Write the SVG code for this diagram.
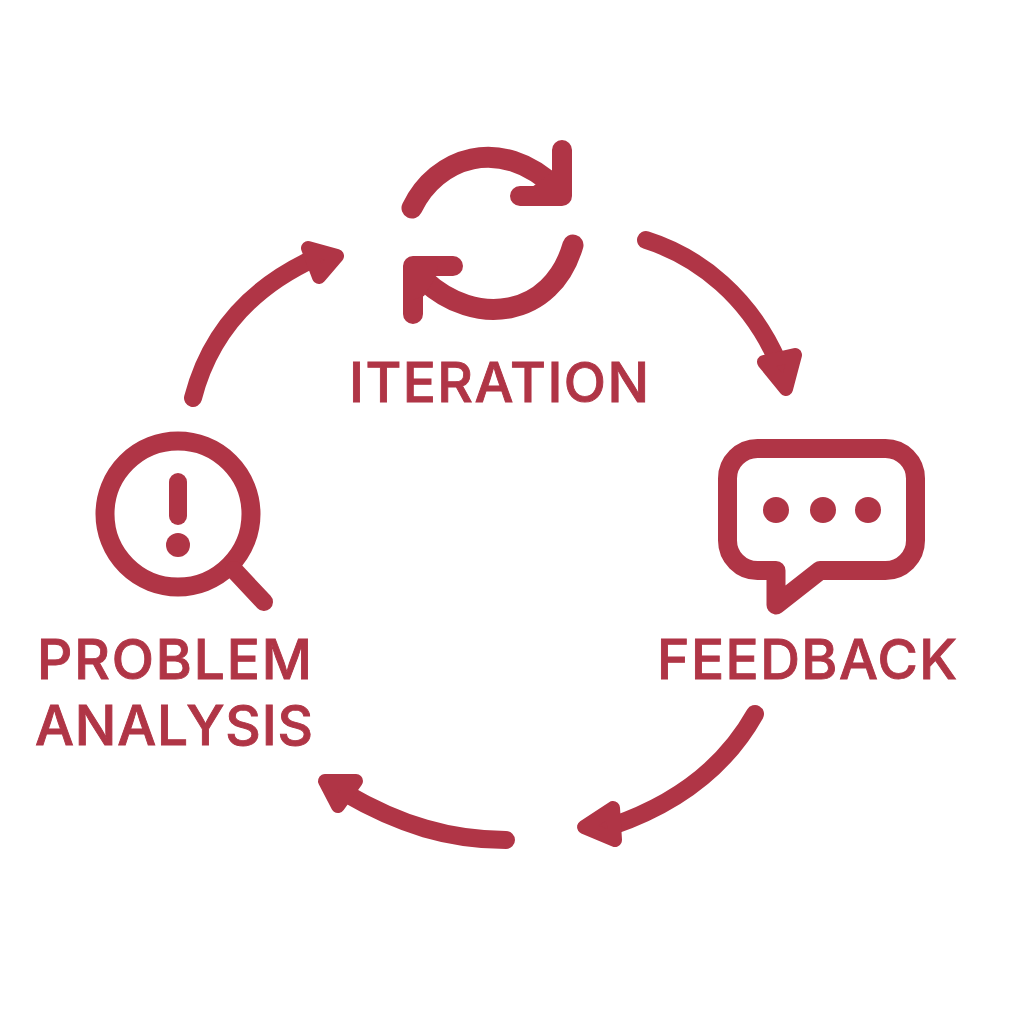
<svg xmlns="http://www.w3.org/2000/svg" width="1024" height="1024" viewBox="0 0 1024 1024">
<style>
.s{fill:none;stroke:#b03546;stroke-linecap:round;stroke-linejoin:round}
.f{fill:#b03546}
.c{stroke-width:18}
.i{stroke-width:21}
.h{fill:#b03546;stroke:#b03546;stroke-width:14;stroke-linejoin:round}
text{font-family:Inter,"Liberation Sans",sans-serif;font-weight:500;fill:#b03546;stroke:#b03546;stroke-width:0.9px;font-size:55px}
</style>
<rect width="1024" height="1024" fill="#fff"/>
<g id="connectors">
<path class="s c" d="M646 240C700 257 750 298 778 362"/>
<path class="h" d="M764 362L795 355L786 389Z"/>
<path class="s c" d="M755 714C728 762 682 802 612 826"/>
<path class="h" d="M613 808L584 827L615 840Z"/>
<path class="s c" d="M506 840C450 840 400 825 345 793"/>
<path class="h" d="M325 781L356 781L338 806Z"/>
<path class="s c" d="M193 398C208 340 245 290 315 258"/>
<path class="h" d="M308 248L337 256L319 277Z"/>
</g>
<g id="iteration">
<path class="s i" d="M412 208C436 158 500 134 556 188"/>
<path class="s" stroke-width="20" d="M562 150V196H520"/>
<path class="f" d="M532 187L553 172L562 160V196H540Z"/>
<path class="s i" d="M573 245C552 318 475 328 424 280"/>
<path class="s" stroke-width="20" d="M413 314V266H453"/>
<path class="f" d="M413 266H438L434 280L424 296L413 300Z"/>
<text x="349" y="402" textLength="300">ITERATION</text>
</g>
<g id="feedback">
<path class="s" stroke-width="19" d="M757.500 448.500H885.500A30 30 0 0 1 915.500 478.500V540.500A30 30 0 0 1 885.500 570.500H820L776 605V570.500H757.500A30 30 0 0 1 727.500 540.500V478.500A30 30 0 0 1 757.500 448.500Z"/>
<circle class="f" cx="776" cy="510" r="13"/><circle class="f" cx="823" cy="510" r="13"/><circle class="f" cx="868" cy="510" r="13"/>
<text x="657" y="679" textLength="300">FEEDBACK</text>
</g>
<g id="problem-analysis">
<circle class="s" stroke-width="19" cx="178" cy="514" r="73"/>
<path class="s" stroke-width="18" d="M234 570L264 602"/>
<path class="s" stroke-width="18" d="M178 482V516"/>
<circle class="f" cx="178" cy="545" r="12"/>
<text x="37" y="679" textLength="275">PROBLEM</text>
<text x="35" y="745" textLength="278">ANALYSIS</text>
</g>
</svg>
